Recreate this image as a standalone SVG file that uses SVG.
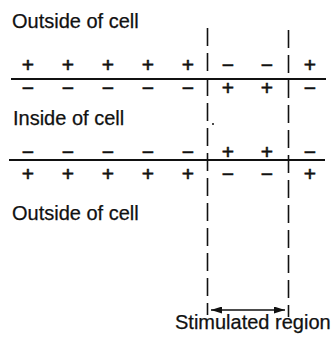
<svg xmlns="http://www.w3.org/2000/svg" width="335" height="338" viewBox="0 0 335 338">
<style>
.lbl{font-family:"Liberation Sans",Arial,sans-serif;font-size:20px;fill:#111;stroke:#111;stroke-width:0.25}
.sg{font-family:"Liberation Sans",Arial,sans-serif;font-size:21px;fill:#111;stroke:#111;stroke-width:0.6;text-anchor:middle}
.mem{stroke:#111;stroke-width:2;fill:none}
.dash{stroke:#111;stroke-width:1.6;fill:none;stroke-dasharray:18 7}
.arr{stroke:#111;stroke-width:1.4;fill:none}
</style>
<defs>
<marker id="ah" viewBox="0 0 11 7" refX="11" refY="3.5" markerWidth="11" markerHeight="7" markerUnits="userSpaceOnUse" orient="auto-start-reverse">
<path d="M0,0 L11,3.5 L0,7 Z" fill="#111"/>
</marker>
</defs>
<rect width="335" height="338" fill="#fff"/>
<g id="labels">
<text class="lbl" x="12" y="28">Outside of cell</text>
<text class="lbl" x="13" y="125">Inside of cell</text>
<text class="lbl" x="12" y="220">Outside of cell</text>
<text class="lbl" x="175" y="329">Stimulated region</text>
</g>
<g id="membrane-top">
<line class="mem" x1="11" y1="79" x2="326" y2="79"/>
<g id="top-outer-charges">
<text class="sg" x="28" y="72">+</text><text class="sg" x="68" y="72">+</text><text class="sg" x="108" y="72">+</text><text class="sg" x="148" y="72">+</text><text class="sg" x="188" y="72">+</text>
<text class="sg" x="228" y="72">−</text><text class="sg" x="267" y="72">−</text>
<text class="sg" x="310" y="72">+</text>
</g>
<g id="top-inner-charges">
<text class="sg" x="28" y="95">−</text><text class="sg" x="68" y="95">−</text><text class="sg" x="108" y="95">−</text><text class="sg" x="148" y="95">−</text><text class="sg" x="188" y="95">−</text>
<text class="sg" x="228" y="95">+</text><text class="sg" x="267" y="95">+</text>
<text class="sg" x="310" y="95">−</text>
</g>
</g>
<g id="membrane-bottom">
<line class="mem" x1="9" y1="160" x2="325" y2="160"/>
<g id="bottom-inner-charges">
<text class="sg" x="28" y="159">−</text><text class="sg" x="68" y="159">−</text><text class="sg" x="108" y="159">−</text><text class="sg" x="148" y="159">−</text><text class="sg" x="188" y="159">−</text>
<text class="sg" x="228" y="159">+</text><text class="sg" x="267" y="159">+</text>
<text class="sg" x="310" y="159">−</text>
</g>
<g id="bottom-outer-charges">
<text class="sg" x="28" y="181">+</text><text class="sg" x="68" y="181">+</text><text class="sg" x="108" y="181">+</text><text class="sg" x="148" y="181">+</text><text class="sg" x="188" y="181">+</text>
<text class="sg" x="228" y="181">−</text><text class="sg" x="267" y="181">−</text>
<text class="sg" x="310" y="181">+</text>
</g>
</g>
<circle cx="213" cy="124" r="1" fill="#111"/>
<g id="connectors">
<line class="dash" x1="207.5" y1="28" x2="207.5" y2="315"/>
<line class="dash" x1="288.5" y1="30" x2="288.5" y2="317"/>
<line class="arr" x1="211" y1="310" x2="285" y2="310" marker-start="url(#ah)" marker-end="url(#ah)"/>
</g>
</svg>
